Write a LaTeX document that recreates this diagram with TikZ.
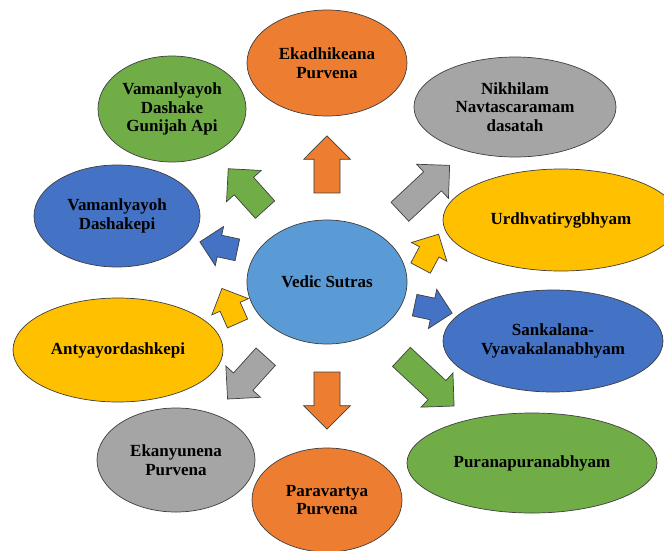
\documentclass[tikz,border=0pt]{standalone}
\usepackage{fontspec}
\setmainfont{Liberation Serif}
\usetikzlibrary{shapes.geometric}
\usetikzlibrary{shapes.arrows}
\definecolor{sutraorange}{HTML}{ED7D31}
\definecolor{sutragray}{HTML}{A5A5A5}
\definecolor{sutrayellow}{HTML}{FFC000}
\definecolor{sutrablue}{HTML}{4472C4}
\definecolor{sutragreen}{HTML}{70AD47}
\definecolor{sutrahub}{HTML}{5B9BD5}
\definecolor{sutraline}{HTML}{3F3F3F}
\tikzset{x=0.03cm, y=-0.03cm, % one unit is one pixel of the layout
sutra/.style={ % Sets the properties for each sutra
ellipse,
draw=sutraline,
line width=0.6pt,
inner sep=0pt,
align=center,
font=\fontsize{14.5}{16}\selectfont\bfseries},
bigarrow/.style={ % Block arrows round the hub
single arrow,
draw=sutraline,
line width=0.6pt,
inner xsep=0pt,
inner ysep=0.38cm, % half the shaft
single arrow head extend=0.31cm},
smallarrow/.style={ % Short block arrows at the sides
single arrow,
draw=sutraline,
line width=0.6pt,
inner xsep=0pt,
inner ysep=0.32cm,
minimum height=1.15cm,
single arrow head extend=0.27cm}}
\begin{document}
\begin{tikzpicture}
\useasboundingbox (0,0) rectangle (664,550);
\node[sutra, fill=sutrahub, minimum width=4.8cm, minimum height=3.72cm] (vedic) at (327,282) {Vedic Sutras};
\node[sutra, fill=sutraorange, minimum width=4.8cm, minimum height=3.18cm] (ekadhikeana) at (327,63) {Ekadhikeana\\Purvena};
\node[sutra, fill=sutragray, minimum width=6.06cm, minimum height=3cm] (nikhilam) at (515,107) {Nikhilam\\Navtascaramam\\dasatah};
\node[sutra, fill=sutrayellow, minimum width=7.08cm, minimum height=3.06cm] (urdhva) at (561,220) {Urdhvatirygbhyam};
\node[sutra, fill=sutrablue, minimum width=6.6cm, minimum height=3.06cm] (sankalana) at (553,341) {Sankalana-\\Vyavakalanabhyam};
\node[sutra, fill=sutragreen, minimum width=7.5cm, minimum height=3cm] (purana) at (532,463) {Puranapuranabhyam};
\node[sutra, fill=sutraorange, minimum width=4.5cm, minimum height=3.12cm] (paravartya) at (327,500) {Paravartya\\Purvena};
\node[sutra, fill=sutragray, minimum width=4.74cm, minimum height=3.12cm] (ekanyunena) at (176,460) {Ekanyunena\\Purvena};
\node[sutra, fill=sutrayellow, minimum width=6.3cm, minimum height=3.12cm] (antya) at (118,350) {Antyayordashkepi};
\node[sutra, fill=sutrablue, minimum width=4.98cm, minimum height=3.06cm] (dashakepi) at (117,216) {Vamanlyayoh\\Dashakepi};
\node[sutra, fill=sutragreen, minimum width=4.44cm, minimum height=3.18cm] (gunijah) at (172,109) {Vamanlyayoh\\Dashake\\Gunijah Api};
% arrows from the hub
\node[bigarrow, fill=sutraorange, minimum height=1.71cm, rotate=90] (toekadhikeana) at (327,171) {};
\node[bigarrow, fill=sutragray, minimum height=2.04cm, rotate=43] (tonikhilam) at (420,193) {};
\node[smallarrow, fill=sutrayellow, rotate=62] (tourdhva) at (427,256) {};
\node[smallarrow, fill=sutrablue, rotate=-12] (tosankalana) at (428,308) {};
\node[bigarrow, fill=sutragreen, minimum height=2.16cm, rotate=-43] (topurana) at (423,377) {};
\node[bigarrow, fill=sutraorange, minimum height=1.71cm, rotate=-90] (toparavartya) at (327,394) {};
\node[bigarrow, fill=sutragray, minimum height=1.71cm, rotate=228] (toekanyunena) at (251,373) {};
\node[smallarrow, fill=sutrayellow, rotate=114] (toantya) at (232,311) {};
\node[smallarrow, fill=sutrablue, rotate=168] (todashakepi) at (224,247) {};
\node[bigarrow, fill=sutragreen, minimum height=1.65cm, rotate=132] (togunijah) at (251,194) {};
\end{tikzpicture}
\end{document}
